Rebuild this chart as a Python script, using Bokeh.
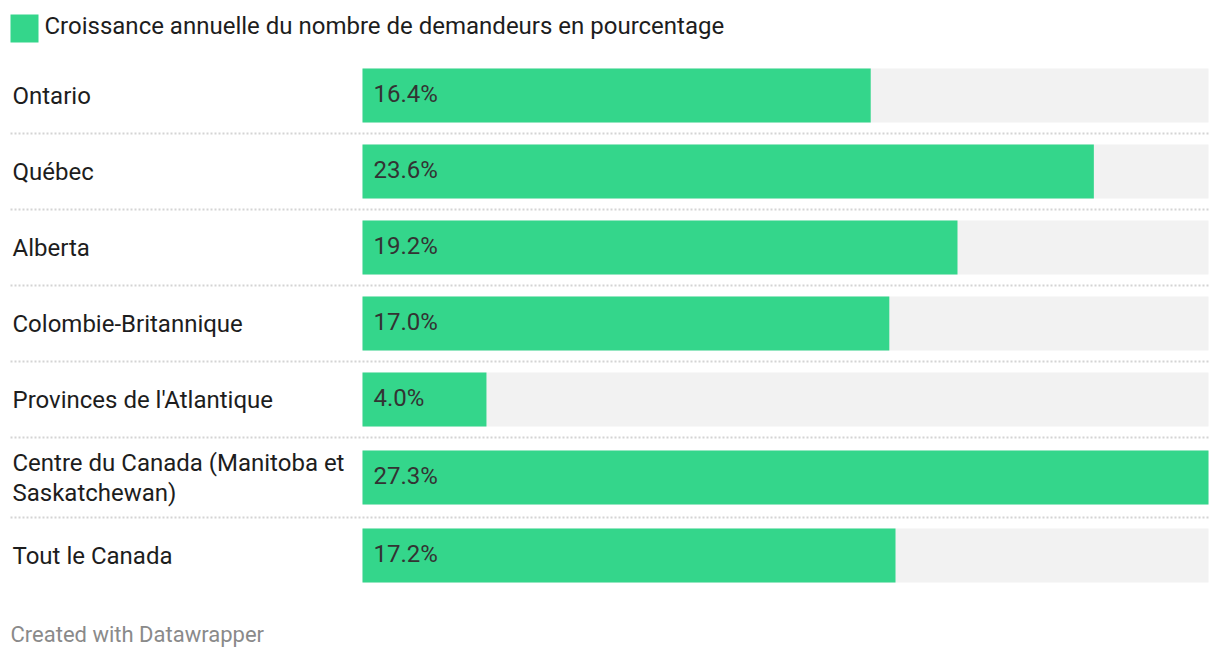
from bokeh.plotting import figure
from bokeh.models import Range1d, ColumnDataSource
from bokeh.core.properties import value
from bokeh.embed import file_html
from bokeh.resources import INLINE

# ---- data ----
regions = ["Ontario", "Québec", "Alberta", "Colombie-Britannique",
           "Provinces de l'Atlantique", "Centre du Canada (Manitoba et\nSaskatchewan)",
           "Tout le Canada"]
growth = [16.4, 23.6, 19.2, 17.0, 4.0, 27.3, 17.2]
legend_label = "Croissance annuelle du nombre de demandeurs en pourcentage"
footer = "Created with Datawrapper"

# ---- layout (image pixel space) ----
W, H = 1210, 648
BAR_LEFT_PX = 362
BAR_W_PX = 846
vmax = max(growth)
k = vmax / BAR_W_PX          # data units per px
x0 = -BAR_LEFT_PX * k
x1 = (W - BAR_LEFT_PX) * k

def px_to_x(px):
    return (px - BAR_LEFT_PX) * k

row_y = [95, 171, 247, 323, 399, 477, 555]
sep_y = [133, 209, 285, 361, 437, 517]
BAR_H = 54

GREEN = "#34d68b"
FONT = value("Roboto")

p = figure(width=W, height=H, output_backend="svg", toolbar_location=None,
           x_range=Range1d(x0, x1), y_range=Range1d(H, 0),
           x_axis_location=None, y_axis_location=None, min_border=0)
p.outline_line_color = None
p.xgrid.visible = False
p.ygrid.visible = False
p.background_fill_color = "white"
p.border_fill_color = "white"

src = ColumnDataSource(dict(y=row_y, ty=[y - 2 for y in row_y], v=growth,
                            full=[vmax] * len(growth),
                            lab=[f"{g:.1f}%" for g in growth]))

# background track
p.hbar(y="y", left=0, right="full", height=BAR_H, source=src,
       fill_color="#f2f2f2", line_color=None)
# value bars
p.hbar(y="y", left=0, right="v", height=BAR_H, source=src,
       fill_color=GREEN, line_color=None)

# value labels
p.text(x=px_to_x(373), y="ty", text="lab", source=src, text_font=FONT,
       text_font_size="24px", text_baseline="middle", text_align="left",
       text_color="#333333")

# category labels
for name, y in zip(regions, row_y):
    lines = name.split("\n")
    n = len(lines)
    for i, ln in enumerate(lines):
        yy = y + 0.5 + 30 * (i - (n - 1) / 2)
        p.text(x=[px_to_x(12)], y=[yy], text=[ln], text_font=FONT,
               text_font_size="24px", text_baseline="middle",
               text_color="#1d1d1d")

# dotted separators
p.segment(x0=[px_to_x(10)] * len(sep_y), x1=[vmax] * len(sep_y), y0=sep_y, y1=sep_y,
          line_color="#d4d4d4", line_width=2, line_dash="2 2")

# legend
p.rect(x=[px_to_x(24)], y=[28], width=28 * k, height=28,
       fill_color=GREEN, line_color=None)
p.text(x=[px_to_x(44)], y=[25.5], text=[legend_label], text_font=FONT,
       text_font_size="24px", text_baseline="middle", text_color="#1d1d1d")

# footer
p.text(x=[px_to_x(10)], y=[634], text=[footer], text_font=FONT,
       text_font_size="22px", text_baseline="middle", text_color="#8a8a8a")

open("out.html", "w").write(file_html(p, INLINE))
